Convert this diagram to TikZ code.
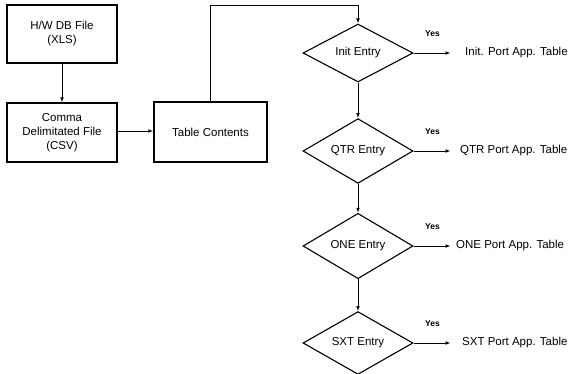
\documentclass[tikz,border=0pt]{standalone}
\usepackage{fontspec}
\setmainfont{Liberation Sans}
\usetikzlibrary{shapes.geometric,arrows.meta}

\begin{document}
\begin{tikzpicture}[x=1pt,y=-1pt,
  every node/.style={font=\fontsize{11.5}{14}\selectfont},
  procbox/.style={draw,line width=1.4pt,inner sep=0pt,align=center},
  decision/.style={draw,shape=diamond,line width=1.1pt,inner sep=0pt,
    minimum width=110pt,minimum height=58pt},
  flow/.style={line width=1pt,-{Latex[length=5pt,width=3.8pt]}},
  yeslabel/.style={font=\fontsize{8.5}{10}\selectfont\bfseries},
  result/.style={anchor=west,inner sep=0pt}]
  \useasboundingbox (0,0) rectangle (575,373);

  % source files and table contents
  \node[procbox,minimum width=110pt,minimum height=58pt] (xls) at (62,34)
    {H/W DB File\\(XLS)};
  \node[procbox,minimum width=110pt,minimum height=59pt] (csv) at (62,132.5)
    {Comma\\Delimitated File\\(CSV)};
  \node[procbox,minimum width=113pt,minimum height=60pt] (tbl) at (210.5,132)
    {Table Contents};

  % entry decisions
  \node[decision] (init) at (358,53)  {Init Entry};
  \node[decision] (qtr)  at (358,151) {QTR Entry};
  \node[decision] (one)  at (358,246) {ONE Entry};
  \node[decision] (sxt)  at (358,343) {SXT Entry};

  % output tables
  \node[result] (tinit) at (465,53)  {Init. Port App. Table};
  \node[result] (tqtr)  at (460,151) {QTR Port App. Table};
  \node[result] (tone)  at (456,246) {ONE Port App. Table};
  \node[result] (tsxt)  at (462,343) {SXT Port App. Table};

  % connectors
  \draw[flow] (xls) -- (csv);
  \draw[flow] (csv.east |- 0,131) -- (tbl.west |- 0,131);
  \coordinate (top) at (210,5);
  \draw[flow] (tbl.north -| top) -- (top) -| (init.north);
  \draw[flow] (init.south) -- (qtr.north);
  \draw[flow] (qtr.south) -- (one.north);
  \draw[flow] (one.south) -- (sxt.north);

  \foreach \d in {init,qtr,one,sxt} {
    \coordinate (\d tip) at ([xshift=37pt]\d.east);
    \draw[flow] (\d.east) -- (\d tip);
    \node[yeslabel] at ([xshift=19pt,yshift=19pt]\d.east) {Yes};
  }
\end{tikzpicture}
\end{document}
